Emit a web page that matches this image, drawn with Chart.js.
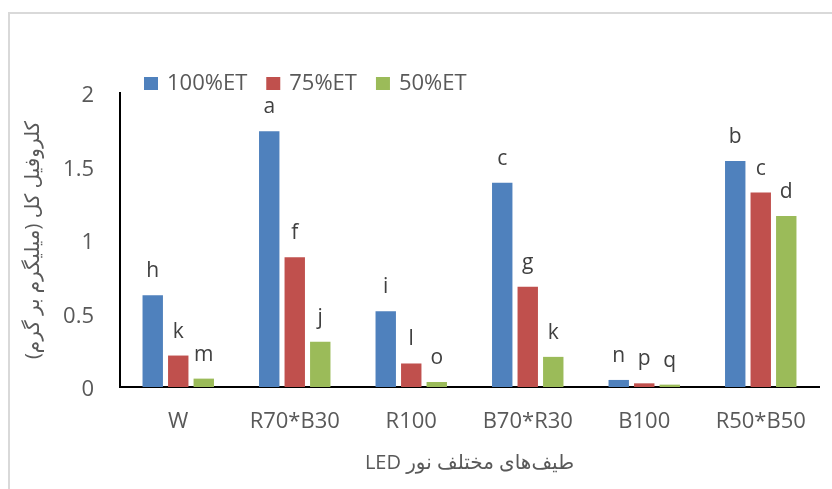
<!DOCTYPE html>
<html>
<head>
<meta charset="utf-8">
<script src="https://cdn.jsdelivr.net/npm/chart.js@4.4.1/dist/chart.umd.min.js"></script>
<style>
  html, body { margin: 0; padding: 0; background: #fff; }
  #wrap { width: 832px; height: 489px; position: relative; }
</style>
</head>
<body>
<div id="wrap"><canvas id="chlChart"></canvas></div>
<script>
// data
const categories = ["W", "R70*B30", "R100", "B70*R30", "B100", "R50*B50"];
const seriesNames = ["100%ET", "75%ET", "50%ET"];
const et100 = [0.625, 1.74, 0.515, 1.39, 0.048, 1.537];
const et75  = [0.214, 0.883, 0.16, 0.682, 0.025, 1.323];
const et50  = [0.057, 0.307, 0.034, 0.205, 0.016, 1.164];
const letters100 = ["h", "a", "i", "c", "n", "b"];
const letters75  = ["k", "f", "l", "g", "p", "c"];
const letters50  = ["m", "j", "o", "k", "q", "d"];
const yTicks = [0, 0.5, 1, 1.5, 2];

const colors = ["#4F81BD", "#C0504D", "#9BBB59"];
const FONT = "'Open Sans', 'DejaVu Sans', sans-serif";

// wrap Persian titles in a right-to-left embedding so the canvas orders them right
const rtl = s => "\u202B" + s + "\u202C";

// white background + light frame like the Excel chart area
const framePlugin = {
  id: "frame",
  beforeDraw(chart) {
    const ctx = chart.ctx;
    ctx.save();
    ctx.fillStyle = "#fff";
    ctx.fillRect(0, 0, chart.width, chart.height);
    ctx.strokeStyle = "#d9d9d9";
    ctx.lineWidth = 2;
    ctx.strokeRect(9, 13, chart.width + 20, chart.height + 20);
    ctx.restore();
  }
};

// significance letters above each bar
const letterPlugin = {
  id: "letters",
  afterDatasetsDraw(chart) {
    const ctx = chart.ctx;
    const all = [letters100, letters75, letters50];
    ctx.save();
    ctx.font = "21px " + FONT;
    ctx.fillStyle = "#404040";
    ctx.textAlign = "center";
    ctx.textBaseline = "alphabetic";
    chart.data.datasets.forEach((ds, i) => {
      chart.getDatasetMeta(i).data.forEach((bar, j) => {
        ctx.fillText(all[i][j], bar.x, bar.y - 18);
      });
    });
    ctx.restore();
  }
};

// legend row drawn by hand so it sits where Excel put it
const legendPlugin = {
  id: "ownLegend",
  afterDraw(chart) {
    const ctx = chart.ctx;
    ctx.save();
    ctx.font = "22px " + FONT;
    ctx.textBaseline = "middle";
    let x = 144;
    const y = 84;
    chart.data.datasets.forEach((ds) => {
      ctx.fillStyle = ds.backgroundColor;
      ctx.fillRect(x, y - 7, 14, 13);
      ctx.fillStyle = "#595959";
      ctx.fillText(ds.label, x + 23, y);
      x += 23 + ctx.measureText(ds.label).width + 19;
    });
    ctx.restore();
  }
};

new Chart(document.getElementById("chlChart"), {
  type: "bar",
  data: {
    labels: categories,
    datasets: [
      { label: seriesNames[0], data: et100, backgroundColor: colors[0] },
      { label: seriesNames[1], data: et75,  backgroundColor: colors[1] },
      { label: seriesNames[2], data: et50,  backgroundColor: colors[2] }
    ]
  },
  options: {
    responsive: true,
    maintainAspectRatio: false,
    animation: false,
    layout: { padding: { top: 93, right: 13, left: 0, bottom: 0 } },
    datasets: { bar: { categoryPercentage: 0.657, barPercentage: 0.8 } },
    plugins: {
      legend: { display: false },
      tooltip: { enabled: false }
    },
    scales: {
      x: {
        grid: { display: false, drawTicks: false },
        border: { color: "#000", width: 2 },
        ticks: { color: "#595959", font: { family: FONT, size: 22 }, padding: 22, maxRotation: 0 },
        title: {
          display: true,
          text: rtl("طیف‌های مختلف نور LED"),
          color: "#595959",
          font: { family: FONT, size: 20 },
          padding: { top: 0, bottom: 14 }
        },
        afterFit(scale) { scale.height = 102; }
      },
      y: {
        min: 0,
        max: 2,
        afterBuildTicks(scale) { scale.ticks = yTicks.map(v => ({ value: v })); },
        grid: { display: false, drawTicks: false },
        border: { color: "#000", width: 2 },
        ticks: {
          color: "#595959",
          font: { family: FONT, size: 22 },
          padding: 26,
          labelOffset: 3,
          callback: v => String(v)
        },
        title: {
          display: true,
          text: rtl("کلروفیل کل (میلیگرم بر گرم)"),
          color: "#595959",
          font: { family: FONT, size: 20 },
          padding: { top: 21, bottom: 0 }
        },
        afterFit(scale) { scale.width = 120; }
      }
    }
  },
  plugins: [framePlugin, letterPlugin, legendPlugin]
});
</script>
</body>
</html>
